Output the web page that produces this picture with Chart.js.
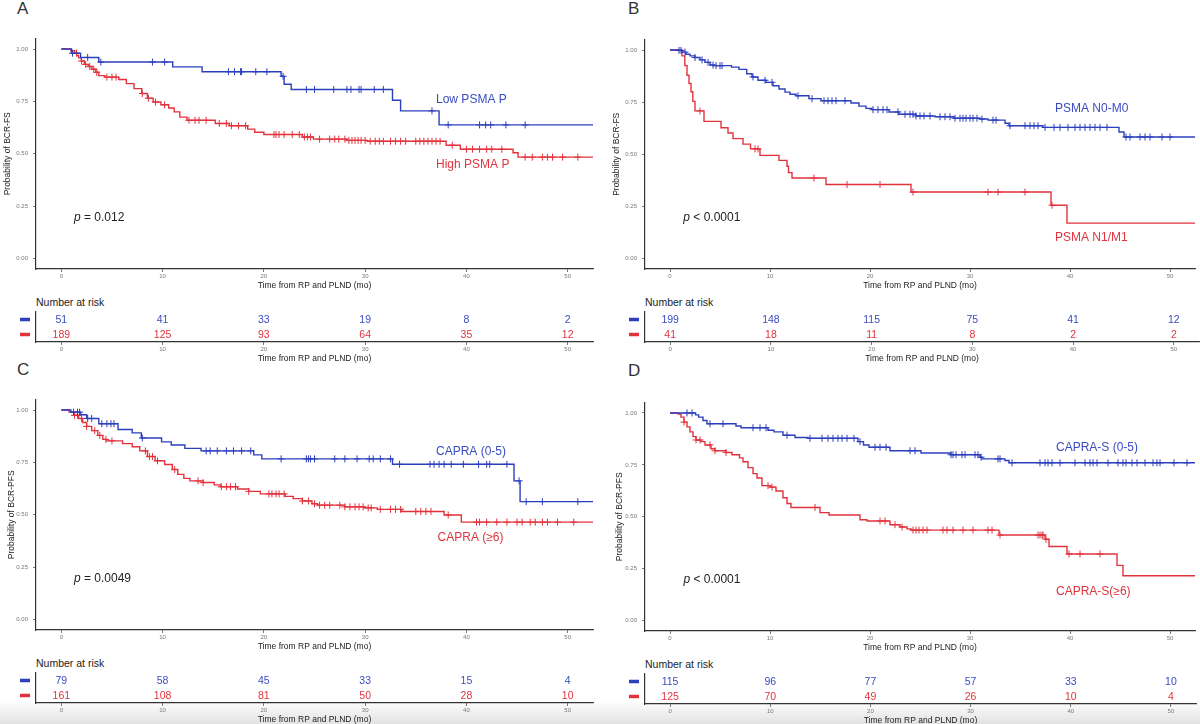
<!DOCTYPE html>
<html>
<head>
<meta charset="utf-8">
<script src="https://cdn.jsdelivr.net/npm/chart.js@4.4.1/dist/chart.umd.min.js"></script>
<style>
  body { margin: 0; width: 1200px; height: 724px; position: relative; overflow: hidden; background: #fff;
         font-family: 'Liberation Sans', Arial, sans-serif; }
  canvas { position: absolute; }
  .fade { position: absolute; left: 0; top: 700px; width: 1200px; height: 24px;
          background: linear-gradient(to bottom, rgba(228,228,228,0), #e2e2e2); }
  .letter { position: absolute; font-size: 17px; line-height: 17px; color: #333; }
  .nar { position: absolute; font-size: 10.5px; line-height: 12px; color: #222; }
</style>
</head>
<body>
<div class="fade"></div>
<div class="letter" style="left:17px;top:0px">A</div>
<div class="letter" style="left:628px;top:0px">B</div>
<div class="letter" style="left:17px;top:361px">C</div>
<div class="letter" style="left:628px;top:362px">D</div>
<div class="nar" style="left:36px;top:296px">Number at risk</div>
<div class="nar" style="left:645px;top:296px">Number at risk</div>
<div class="nar" style="left:36px;top:657px">Number at risk</div>
<div class="nar" style="left:645px;top:658px">Number at risk</div>

<canvas id="kmA"></canvas><canvas id="rkA"></canvas>
<canvas id="kmB"></canvas><canvas id="rkB"></canvas>
<canvas id="kmC"></canvas><canvas id="rkC"></canvas>
<canvas id="kmD"></canvas><canvas id="rkD"></canvas>

<script>
// ---- data ----
const xTicks = [0, 10, 20, 30, 40, 50];
const yTicks = [0, 0.25, 0.5, 0.75, 1];
const riskTimes = [0, 10, 20, 30, 40, 50];

// A: PSMA PET score
const groupsA = ['Low PSMA P', 'High PSMA P'];
const aLowT = [0, 1.0, 1.9, 3.7, 11.0, 13.9, 21.7, 22.0, 22.7, 32.7, 33.5, 37.3, 52.5];
const aLowS = [1, 0.98, 0.96, 0.938, 0.915, 0.892, 0.87, 0.832, 0.807, 0.756, 0.705, 0.638, 0.638];
const aLowC = [1.1, 2.6, 3.9, 9.0, 10.2, 16.5, 17.1, 17.7, 17.8, 19.2, 20.3, 21.9, 24.2, 25.0, 26.9, 28.2, 28.6,
               29.4, 29.6, 30.9, 31.8, 36.6, 38.2, 41.3, 41.9, 42.4, 43.9, 45.8];
const aHighT = [0, 0.94, 1.32, 1.51, 1.70, 1.97, 2.27, 2.65, 3.02, 3.40, 3.70, 4.3, 5.67, 6.42, 7.18, 7.94, 8.5,
                9.07, 9.83, 10.6, 11.15, 11.7, 12.4, 15.2, 16.6, 18.4, 19.1, 20.0, 23.8, 24.9, 28.2, 30.2, 38.0,
                39.4, 44.6, 45.1, 52.5];
const aHighS = [1, 0.992, 0.981, 0.969, 0.958, 0.943, 0.927, 0.917, 0.904, 0.889, 0.873, 0.866, 0.855, 0.835,
                0.811, 0.788, 0.765, 0.747, 0.734, 0.719, 0.700, 0.675, 0.660, 0.645, 0.634, 0.618, 0.603, 0.592,
                0.580, 0.570, 0.564, 0.560, 0.541, 0.522, 0.505, 0.484, 0.484];
const aHighC = [1.5, 2.0, 2.4, 2.8, 3.2, 3.5, 4.5, 5.0, 5.4, 8.0, 8.6, 9.3, 10.2, 12.6, 13.2, 13.6, 14.3, 15.6,
                16.3, 16.8, 17.5, 18.2, 21.0, 21.2, 21.5, 22.0, 22.8, 23.5, 24.0, 24.3, 24.6, 25.5, 26.5, 27.0,
                27.4, 28.0, 28.4, 28.7, 29.0, 29.3, 29.6, 30.0, 30.5, 31.0, 31.4, 31.8, 32.5, 33.0, 33.5, 34.0,
                35.0, 35.4, 35.8, 36.2, 36.6, 37.0, 37.4, 38.6, 40.0, 40.6, 41.3, 42.0, 42.5, 43.5, 45.8, 46.5,
                47.5, 48.0, 48.5, 49.5, 51.0];
const aLowN = [51, 41, 33, 19, 8, 2];
const aHighN = [189, 125, 93, 64, 35, 12];

// B: PSMA N/M stage
const groupsB = ['PSMA N0-M0', 'PSMA N1/M1'];
const bLowT = [0, 0.84, 1.2, 1.6, 2.0, 2.5, 3.0, 3.5, 4.0, 4.4, 6.15, 6.9, 7.67, 8.2, 8.8, 9.6, 10.3, 10.9, 11.5,
               12.0, 12.6, 13.9, 15.1, 18.1, 18.9, 19.6, 20.2, 21.9, 22.9, 24.6, 26.5, 28.4, 31.0, 31.8, 33.5,
               33.9, 37.3, 44.9, 45.4, 52.5];
const bLowS = [1, 0.998, 0.99, 0.98, 0.972, 0.964, 0.953, 0.941, 0.928, 0.925, 0.918, 0.907, 0.886, 0.871, 0.855,
               0.845, 0.829, 0.813, 0.798, 0.788, 0.781, 0.767, 0.757, 0.746, 0.731, 0.720, 0.714, 0.703, 0.692,
               0.684, 0.680, 0.673, 0.669, 0.664, 0.649, 0.637, 0.629, 0.607, 0.583, 0.583];
const bLowC = [0.9, 1.1, 1.5, 2.5, 3.2, 3.8, 4.3, 4.6, 5.0, 5.2, 8.3, 9.5, 10.2, 12.8, 14.2, 15.4, 15.8, 16.2, 16.6,
               17.5, 20.3, 20.8, 21.3, 21.7, 22.8, 23.5, 24.0, 24.3, 24.6, 25.0, 25.4, 26.0, 27.0, 27.5, 28.0, 28.5,
               29.0, 29.3, 29.6, 30.0, 30.3, 30.7, 31.2, 32.3, 32.6, 34.0, 35.5, 36.0, 36.4, 36.8, 37.5, 38.4,
               39.0, 39.8, 40.5, 41.0, 41.5, 42.0, 42.5, 43.0, 43.7, 45.6, 46.0, 47.0, 47.5, 48.0, 49.2, 50.0];
const bHighT = [0, 1.2, 1.48, 1.7, 1.9, 2.1, 2.28, 2.5, 3.4, 5.1, 5.8, 6.3, 7.3, 8.05, 9.0, 10.9, 11.7, 11.85, 12.2,
                15.6, 24.1, 38.1, 39.7, 52.5];
const bHighS = [1, 0.972, 0.925, 0.879, 0.84, 0.80, 0.754, 0.708, 0.658, 0.627, 0.602, 0.575, 0.549, 0.526, 0.495,
                0.471, 0.443, 0.412, 0.386, 0.355, 0.319, 0.256, 0.170, 0.170];
const bHighC = [3.0, 8.5, 8.8, 14.4, 17.7, 21.0, 24.3, 31.8, 32.8, 35.5, 38.2];
const bLowN = [199, 148, 115, 75, 41, 12];
const bHighN = [41, 18, 11, 8, 2, 2];

// C: CAPRA
const groupsC = ['CAPRA (0-5)', 'CAPRA (\u22656)'];
const cLowT = [0, 0.94, 1.9, 2.5, 3.7, 5.6, 7.0, 7.9, 9.9, 10.85, 12.2, 13.8, 19.0, 19.8, 32.7, 44.7, 45.3, 52.5];
const cLowS = [1, 0.99, 0.978, 0.96, 0.935, 0.907, 0.891, 0.867, 0.848, 0.833, 0.817, 0.805, 0.786, 0.767, 0.741,
               0.662, 0.563, 0.563];
const cLowC = [1.2, 1.6, 1.8, 2.6, 3.0, 4.0, 4.5, 4.9, 5.2, 8.0, 14.3, 14.7, 15.4, 16.3, 17.0, 17.8, 18.7, 21.7,
               24.2, 24.4, 24.6, 25.0, 27.0, 28.0, 29.2, 30.4, 30.8, 31.5, 32.5, 33.4, 36.4, 36.8, 37.3, 37.8, 38.5,
               39.7, 41.2, 42.0, 42.3, 44.0, 45.2, 45.9, 47.5, 51.0];
const cHighT = [0, 0.76, 1.3, 1.7, 2.1, 2.5, 3.0, 3.6, 4.1, 4.5, 6.05, 7.0, 7.75, 8.5, 9.26, 10.2, 10.96, 11.5,
                12.1, 12.7, 14.0, 15.1, 15.7, 17.4, 18.5, 19.65, 22.1, 22.9, 23.8, 24.75, 25.3, 28.0, 29.9, 31.2,
                33.6, 37.8, 39.5, 52.5];
const cHighS = [1, 0.991, 0.975, 0.96, 0.941, 0.922, 0.902, 0.879, 0.86, 0.853, 0.84, 0.825, 0.805, 0.778, 0.758,
                0.74, 0.716, 0.693, 0.674, 0.662, 0.654, 0.643, 0.634, 0.623, 0.612, 0.600, 0.588, 0.577, 0.566,
                0.553, 0.546, 0.538, 0.533, 0.526, 0.516, 0.499, 0.465, 0.465];
const cHighC = [1.3, 1.6, 2.0, 2.5, 3.3, 3.8, 4.4, 5.0, 8.3, 8.7, 9.0, 9.5, 11.2, 13.5, 14.0, 15.8, 16.3, 16.7,
                17.2, 18.5, 20.5, 20.8, 21.2, 21.5, 22.0, 23.8, 24.4, 25.0, 25.5, 26.0, 26.5, 27.5, 28.0, 28.5,
                29.0, 29.4, 29.8, 30.3, 30.6, 31.5, 32.5, 33.0, 33.5, 35.0, 35.5, 36.0, 36.5, 38.2, 41.0, 41.3,
                42.0, 43.0, 44.0, 45.0, 45.5, 46.3, 46.8, 47.5, 48.0, 49.0, 50.6];
const cLowN = [79, 58, 45, 33, 15, 4];
const cHighN = [161, 108, 81, 50, 28, 10];

// D: CAPRA-S
const groupsD = ['CAPRA-S (0-5)', 'CAPRA-S(\u22656)'];
const dLowT = [0, 2.56, 2.86, 3.3, 3.7, 6.6, 7.1, 9.8, 10.4, 11.3, 12.5, 13.8, 18.8, 19.35, 19.9, 22.0, 25.1, 28.1,
               31.0, 31.2, 33.5, 33.9, 52.5];
const dLowS = [1, 0.991, 0.98, 0.964, 0.948, 0.937, 0.929, 0.917, 0.909, 0.893, 0.882, 0.878, 0.862, 0.846, 0.835,
               0.818, 0.807, 0.799, 0.787, 0.779, 0.771, 0.760, 0.760];
const dLowC = [1.7, 2.2, 4.0, 5.3, 8.3, 9.0, 9.6, 11.7, 14.0, 15.2, 15.8, 16.3, 16.8, 17.2, 17.7, 18.4, 19.0, 20.5,
               21.0, 21.6, 24.0, 24.5, 28.1, 28.3, 28.6, 29.2, 29.5, 30.5, 30.8, 31.1, 32.8, 33.0, 34.2, 37.0,
               37.5, 37.8, 38.2, 39.0, 40.5, 41.5, 42.0, 42.3, 42.7, 43.8, 44.8, 45.3, 45.6, 46.2, 46.7, 47.5,
               48.3, 48.7, 49.0, 50.4, 51.7];
const dHighT = [0, 0.84, 1.1, 1.4, 1.7, 2.0, 2.3, 2.6, 3.1, 3.5, 4.1, 4.5, 5.6, 6.2, 6.95, 7.3, 7.8, 8.3, 8.7, 9.2,
                10.0, 10.6, 11.3, 11.7, 12.1, 15.0, 15.9, 19.0, 19.7, 22.0, 23.0, 23.7, 24.1, 32.9, 37.5, 37.9,
                39.7, 44.7, 45.3, 52.5];
const dHighS = [1, 0.995, 0.98, 0.956, 0.933, 0.909, 0.886, 0.870, 0.862, 0.846, 0.828, 0.818, 0.810, 0.799, 0.784,
                0.765, 0.737, 0.708, 0.687, 0.650, 0.643, 0.624, 0.592, 0.564, 0.545, 0.520, 0.509, 0.486, 0.480,
                0.462, 0.451, 0.442, 0.436, 0.412, 0.392, 0.357, 0.321, 0.266, 0.216, 0.216];
const dHighC = [1.4, 2.6, 3.0, 4.0, 4.5, 5.6, 9.8, 10.2, 14.5, 21.0, 21.5, 22.5, 23.2, 24.3, 24.6, 24.9, 25.3, 25.7,
                27.3, 27.7, 28.3, 29.3, 30.3, 31.8, 32.2, 33.0, 36.8, 37.0, 37.2, 37.3, 37.6, 39.9, 41.0, 43.0];
const dLowN = [115, 96, 77, 57, 33, 10];
const dHighN = [125, 70, 49, 26, 10, 4];

// ---- styling ----
const FONT = "'Liberation Sans', Arial, sans-serif";
const BLUE = '#2c3fbd';
const RED = '#e2323c';
const BLUE_TXT = '#3a4cc2';
const RED_TXT = '#e0343e';
Chart.defaults.font.family = FONT;

const panels = [
    { km: { id: 'kmA', left: 0, top: 30, w: 600, h: 261, padR: 7, yW: 36, titlePad: 3 },
      rk: { id: 'rkA', left: 0, top: 310, w: 600, h: 54, padR: 7, yW: 36 },
      yTitle: 'Probability of BCR-FS', groups: groupsA,
      low: [aLowT, aLowS, aLowC], high: [aHighT, aHighS, aHighC], n: [aLowN, aHighN],
      pText: ' = 0.012', lblPos: [[37.0, 0.76], [37.0, 0.45], [1.25, 0.196]] },
    { km: { id: 'kmB', left: 600, top: 31, w: 600, h: 260, padR: 1, yW: 45, titlePad: 12 },
      rk: { id: 'rkB', left: 600, top: 310, w: 600, h: 54, padR: 1, yW: 45 },
      yTitle: 'Probability of BCR-FS', groups: groupsB,
      low: [bLowT, bLowS, bLowC], high: [bHighT, bHighS, bHighC], n: [bLowN, bHighN],
      pText: ' < 0.0001', lblPos: [[38.5, 0.718], [38.5, 0.10], [1.33, 0.198]] },
    { km: { id: 'kmC', left: 0, top: 391, w: 600, h: 261, padR: 7, yW: 36, titlePad: 7 },
      rk: { id: 'rkC', left: 0, top: 671, w: 600, h: 54, padR: 7, yW: 36 },
      yTitle: 'Probability of BCR-PFS', groups: groupsC,
      low: [cLowT, cLowS, cLowC], high: [cHighT, cHighS, cHighC], n: [cLowN, cHighN],
      pText: ' = 0.0049', lblPos: [[37.0, 0.80], [37.15, 0.39], [1.25, 0.197]] },
    { km: { id: 'kmD', left: 600, top: 394, w: 600, h: 259, padR: 4, yW: 45, titlePad: 15 },
      rk: { id: 'rkD', left: 600, top: 672, w: 600, h: 54, padR: 4, yW: 45 },
      yTitle: 'Probability of BCR-PFS', groups: groupsD,
      low: [dLowT, dLowS, dLowC], high: [dHighT, dHighS, dHighC], n: [dLowN, dHighN],
      pText: ' < 0.0001', lblPos: [[38.6, 0.834], [38.6, 0.141], [1.34, 0.196]] }
];

function survAt(T, S, t) {
    let v = S[0];
    for (let i = 0; i < T.length; i++) if (T[i] <= t) v = S[i];
    return v;
}

function placeCanvas(g) {
    const c = document.getElementById(g.id);
    c.width = g.w; c.height = g.h;
    c.style.left = g.left + 'px';
    c.style.top = g.top + 'px';
    return c;
}

function xScale() {
    return {
        type: 'linear', min: -2.5, max: 52.5,
        afterBuildTicks: s => { s.ticks = xTicks.map(v => ({ value: v })); },
        ticks: { font: { size: 6 }, color: '#777', padding: 1, maxRotation: 0 },
        grid: { drawOnChartArea: false, drawTicks: true, tickLength: 3, color: '#555', lineWidth: 0.8 },
        border: { display: true, color: '#333', width: 1.2 },
        title: { display: true, text: 'Time from RP and PLND (mo)', font: { size: 8.5 }, color: '#222', padding: 0 },
        afterFit: s => { s.height = 22; }
    };
}

function textPlugin(p) {
    return {
        id: 'kmText',
        afterDatasetsDraw(chart) {
            const { ctx, scales: { x, y } } = chart;
            ctx.save();
            ctx.textBaseline = 'middle';
            ctx.textAlign = 'left';
            ctx.font = `12px ${FONT}`;
            [BLUE_TXT, RED_TXT].forEach((col, i) => {
                ctx.fillStyle = col;
                ctx.fillText(p.groups[i], x.getPixelForValue(p.lblPos[i][0]), y.getPixelForValue(p.lblPos[i][1]));
            });
            const px = x.getPixelForValue(p.lblPos[2][0]);
            const py = y.getPixelForValue(p.lblPos[2][1]);
            ctx.fillStyle = '#222';
            ctx.font = `italic 12px ${FONT}`;
            ctx.fillText('p', px, py);
            const w = ctx.measureText('p').width;
            ctx.font = `12px ${FONT}`;
            ctx.fillText(p.pText, px + w, py);
            ctx.restore();
        }
    };
}

const riskPlugin = {
    id: 'riskText',
    afterDatasetsDraw(chart) {
        const { ctx, chartArea } = chart;
        ctx.save();
        ctx.textAlign = 'center';
        ctx.textBaseline = 'middle';
        ctx.font = `10.5px ${FONT}`;
        chart.data.datasets.forEach((ds, di) => {
            const meta = chart.getDatasetMeta(di);
            ctx.fillStyle = ds.textColor;
            meta.data.forEach((pt, i) => ctx.fillText(String(ds.counts[i]), pt.x, pt.y + 0.5));
            ctx.fillStyle = ds.borderColor;
            ctx.fillRect(chartArea.left - 16, meta.data[0].y - 1.75, 10, 3.5);
        });
        ctx.restore();
    }
};

panels.forEach(p => {
    // survival curves
    const km = placeCanvas(p.km);
    const curves = [[p.low, BLUE], [p.high, RED]];
    const datasets = [];
    curves.forEach(([[T, S, C], col]) => {
        datasets.push({
            data: T.map((t, i) => ({ x: t, y: S[i] })),
            borderColor: col, borderWidth: 1.4, pointRadius: 0, stepped: 'before', fill: false, showLine: true
        });
        datasets.push({
            data: C.map(t => ({ x: t, y: survAt(T, S, t) })),
            borderColor: col, backgroundColor: col, showLine: false,
            pointStyle: 'cross', pointRadius: 3.5, pointBorderWidth: 1
        });
    });
    new Chart(km, {
        type: 'scatter',
        data: { datasets },
        options: {
            responsive: false, animation: false, devicePixelRatio: 1,
            layout: { padding: { top: 2, right: p.km.padR, left: 0, bottom: 0 } },
            plugins: { legend: { display: false }, tooltip: { enabled: false } },
            scales: {
                x: xScale(),
                y: {
                    type: 'linear', min: -0.05, max: 1.05,
                    afterBuildTicks: s => { s.ticks = yTicks.map(v => ({ value: v })); },
                    ticks: { font: { size: 6 }, color: '#777', padding: 5, callback: v => v.toFixed(2) },
                    grid: { drawOnChartArea: false, drawTicks: true, tickLength: 3, color: '#555', lineWidth: 0.8 },
                    border: { display: true, color: '#333', width: 1.2 },
                    title: { display: true, text: p.yTitle, font: { size: 8.5 }, color: '#222',
                             padding: { top: p.km.titlePad, bottom: 0 } },
                    afterFit: s => { s.width = p.km.yW; }
                }
            }
        },
        plugins: [textPlugin(p)]
    });

    // number-at-risk table
    const rk = placeCanvas(p.rk);
    new Chart(rk, {
        type: 'scatter',
        data: {
            datasets: [
                { data: riskTimes.map(t => ({ x: t, y: p.groups[0] })), counts: p.n[0],
                  borderColor: BLUE, textColor: BLUE_TXT, pointRadius: 0 },
                { data: riskTimes.map(t => ({ x: t, y: p.groups[1] })), counts: p.n[1],
                  borderColor: RED, textColor: RED_TXT, pointRadius: 0 }
            ]
        },
        options: {
            responsive: false, animation: false, devicePixelRatio: 1,
            layout: { padding: { top: 2, right: p.rk.padR, left: 0, bottom: 0 } },
            plugins: { legend: { display: false }, tooltip: { enabled: false } },
            scales: {
                x: xScale(),
                y: {
                    type: 'category', labels: p.groups, offset: true,
                    ticks: { display: false },
                    grid: { display: false },
                    border: { display: true, color: '#333', width: 1.2 },
                    afterFit: s => { s.width = p.rk.yW; }
                }
            }
        },
        plugins: [riskPlugin]
    });
});
</script>
</body>
</html>
